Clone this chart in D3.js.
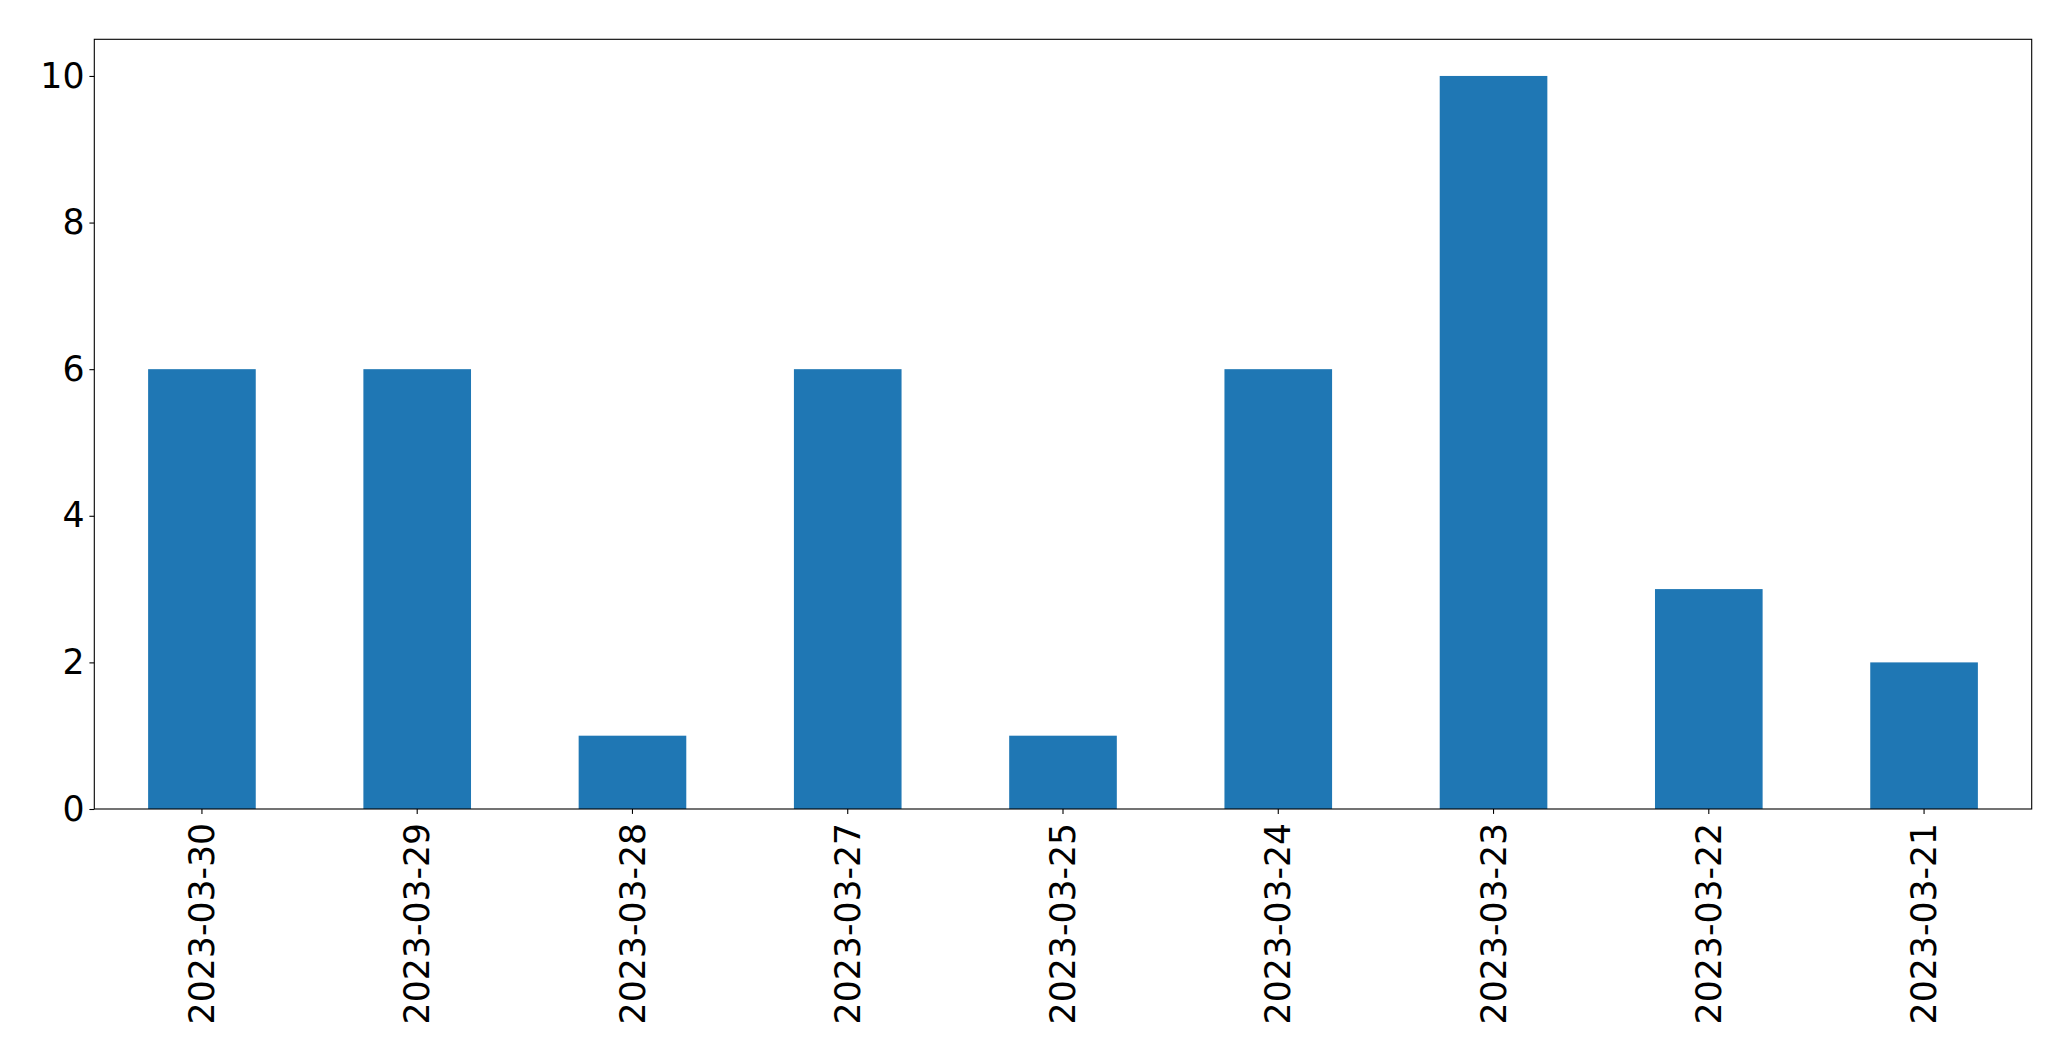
<!DOCTYPE html>
<html>
<head>
<meta charset="utf-8">
<script src="https://cdn.jsdelivr.net/npm/d3@7"></script>
<style>
  html, body { margin: 0; padding: 0; background: #fff; }
  svg { display: block; }
</style>
</head>
<body>
<script>
const categories = ["2023-03-30","2023-03-29","2023-03-28","2023-03-27","2023-03-25","2023-03-24","2023-03-23","2023-03-22","2023-03-21"];
const values = [6, 6, 1, 6, 1, 6, 10, 3, 2];
const yTicks = [0, 2, 4, 6, 8, 10];

(function () {
const W = 2071, H = 1061;
const mLeft = 94.3, mRight = 2031.7, mTop = 39.3, mBottom = 809;
const fontSize = 34.7;
const tickLen = 4.9, pad = 4.9;

const svg = d3.select("body").append("svg").attr("width", W).attr("height", H);

const x = d3.scaleBand().domain(categories).range([mLeft, mRight]).paddingInner(0.5).paddingOuter(0.25);
const y = d3.scaleLinear().domain([0, 10.5]).range([mBottom, mTop]);

svg.append("g").selectAll("rect").data(values).join("rect")
  .attr("x", (d, i) => x(categories[i]))
  .attr("y", d => y(d))
  .attr("width", x.bandwidth())
  .attr("height", d => y(0) - y(d))
  .attr("fill", "#1f77b4");

// y axis
const yAxis = svg.append("g").attr("transform", `translate(${mLeft},0)`)
  .call(d3.axisLeft(y).tickValues(yTicks).tickFormat(d3.format("d")).tickSizeOuter(0).tickSize(tickLen).tickPadding(pad));
yAxis.select(".domain").remove();
yAxis.selectAll("line").attr("stroke", "#000").attr("stroke-width", 1.1);
yAxis.selectAll("text").attr("font-family", "DejaVu Sans").attr("font-size", fontSize).attr("fill", "#000");

// x axis
const xAxis = svg.append("g").attr("transform", `translate(0,${mBottom})`)
  .call(d3.axisBottom(x).tickSizeOuter(0).tickSize(tickLen).tickPadding(pad));
xAxis.select(".domain").remove();
xAxis.selectAll("line").attr("stroke", "#000").attr("stroke-width", 1.1);
xAxis.selectAll("text")
  .attr("font-family", "DejaVu Sans").attr("font-size", fontSize).attr("fill", "#000")
  .attr("text-anchor", "end")
  .attr("transform", `translate(0,${tickLen + pad + 4}) rotate(-90)`)
  .attr("x", 0).attr("y", 0).attr("dy", "0.35em");

// frame
svg.append("rect")
  .attr("x", mLeft).attr("y", mTop)
  .attr("width", mRight - mLeft).attr("height", mBottom - mTop)
  .attr("fill", "none").attr("stroke", "#000").attr("stroke-width", 1.1);
})();
</script>
</body>
</html>
